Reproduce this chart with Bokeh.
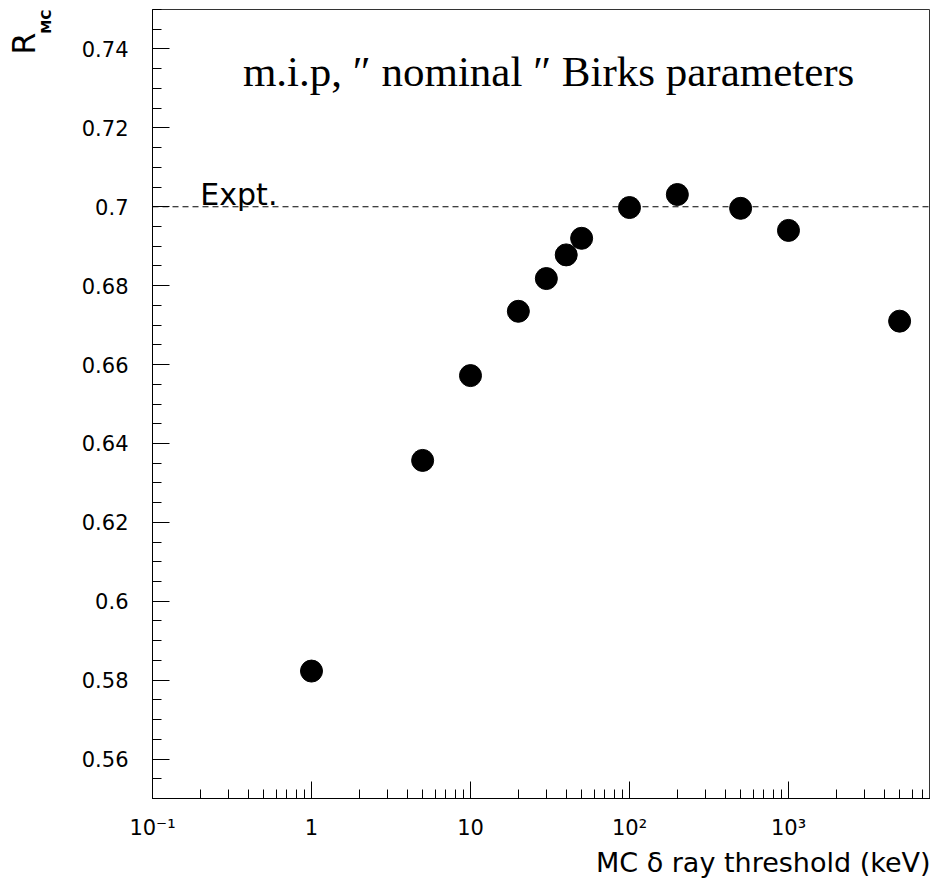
from bokeh.plotting import figure
from bokeh.models import Span, Label, FixedTicker, CustomJSTickFormatter, Title
from bokeh.embed import file_html
from bokeh.resources import INLINE

# ---- data ----
threshold_kev = [1, 5, 10, 20, 30, 40, 50, 100, 200, 500, 1000, 5000]
r_mc = [0.5823, 0.6357, 0.6572, 0.6735, 0.6818, 0.6878, 0.6920, 0.6998, 0.7031, 0.6996, 0.6940, 0.6710]
expt_value = 0.70

x_tick_vals = [0.1, 1, 10, 100, 1000]
x_tick_labels = ["10\u207b\u00b9", "1", "10", "10\u00b2", "10\u00b3"]
y_tick_vals = [0.56, 0.58, 0.60, 0.62, 0.64, 0.66, 0.68, 0.70, 0.72, 0.74]
y_tick_labels = ["0.56", "0.58", "0.6", "0.62", "0.64", "0.66", "0.68", "0.7", "0.72", "0.74"]

title_text = "m.i.p, \u2033 nominal \u2033 Birks parameters"
x_label = "MC \u03b4 ray threshold (keV)"
y_label_main = "R"
y_label_sub = "MC"

X_START, X_END = 0.1, 7820
Y_START, Y_END = 0.55, 0.75

p = figure(x_axis_type="log", x_range=(X_START, X_END), y_range=(Y_START, Y_END),
           width=930, height=879, output_backend="svg", toolbar_location=None,
           min_border_left=152, min_border_right=0, min_border_top=9, min_border_bottom=79)

p.background_fill_color = "white"
p.border_fill_color = "white"
p.outline_line_color = "#333333"
p.outline_line_width = 1
p.xgrid.visible = False
p.ygrid.visible = False

# ticks
x_minor = [m * d for d in [0.1, 1, 10, 100, 1000] for m in range(2, 10) if m * d < X_END]
p.xaxis.ticker = FixedTicker(ticks=x_tick_vals, minor_ticks=x_minor)
p.xaxis.major_label_overrides = dict(zip(x_tick_vals, x_tick_labels))
y_minor = [round(0.55 + 0.005 * i, 3) for i in range(41)]
p.yaxis.ticker = FixedTicker(ticks=y_tick_vals, minor_ticks=y_minor)
p.yaxis.formatter = CustomJSTickFormatter(
    args=dict(vals=y_tick_vals, labs=y_tick_labels),
    code="""
for (let i = 0; i < vals.length; i++) { if (Math.abs(vals[i] - tick) < 1e-9) return labs[i]; }
return '';
""")

for ax in (p.xaxis, p.yaxis):
    ax.axis_line_color = "black"
    ax.axis_line_width = 1
    ax.major_tick_in = 17
    ax.major_tick_out = 0
    ax.minor_tick_in = 9
    ax.minor_tick_out = 0
    ax.major_tick_line_color = "black"
    ax.minor_tick_line_color = "black"
    ax.major_label_text_font = "DejaVu Sans"
    ax.major_label_text_font_size = "21px"
    ax.major_label_text_color = "black"
p.xaxis.major_label_standoff = 17
p.yaxis.major_label_standoff = 24
# empty axis label used only to push the R_MC label further left
p.yaxis.axis_label = " "
p.yaxis.axis_label_standoff = 0
p.yaxis.axis_label_text_font_size = "20px"

# data points
p.scatter(threshold_kev, r_mc, size=22, fill_color="black", line_color="black", marker="circle")

# experiment line
p.add_layout(Span(location=expt_value, dimension="width", line_color="black",
                  line_width=1, line_dash="6 4"))
p.add_layout(Label(x=0.2, y=expt_value, y_offset=-5, text="Expt.", text_font="DejaVu Sans",
                   text_font_size="30px", text_align="left", text_baseline="bottom",
                   text_color="black"))

# title inside the frame
p.add_layout(Label(x=31, y=0.7299, y_offset=-6, text=title_text, text_font="Liberation Serif",
                   text_font_size="43px", text_align="center", text_baseline="bottom",
                   text_color="black"))

# x axis label (right aligned, below)
p.add_layout(Title(text=x_label, align="right", text_font="DejaVu Sans",
                   text_font_size="27px", text_font_style="normal", text_color="black",
                   standoff=4, offset=0), "below")

# y axis label R_MC (rotated, top aligned)
p.add_layout(Title(text=y_label_sub, align="right", text_font="DejaVu Sans",
                   text_font_size="14px", text_font_style="bold", text_color="black",
                   standoff=0, offset=0), "left")
p.add_layout(Title(text=y_label_main, align="right", text_font="DejaVu Sans",
                   text_font_size="32px", text_font_style="normal", text_color="black",
                   standoff=-14, offset=23), "left")

open("out.html", "w").write(file_html(p, INLINE))
